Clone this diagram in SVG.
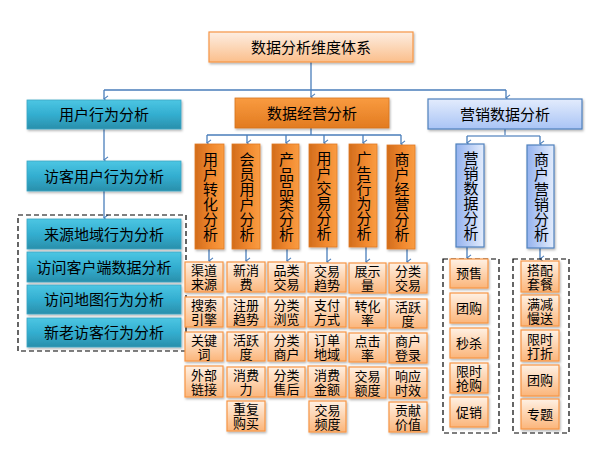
<svg xmlns="http://www.w3.org/2000/svg" width="610" height="457" viewBox="0 0 610 457">
<defs>
<linearGradient id="gTop" x1="0" y1="0" x2="0" y2="1"><stop offset="0" stop-color="#fdeee2"/><stop offset="1" stop-color="#fbbf8c"/></linearGradient>
<linearGradient id="gTeal" x1="0" y1="0" x2="0" y2="1"><stop offset="0" stop-color="#4cc6e3"/><stop offset="0.5" stop-color="#33aed0"/><stop offset="1" stop-color="#2a8fab"/></linearGradient>
<linearGradient id="gOrg" x1="0" y1="0" x2="0" y2="1"><stop offset="0" stop-color="#f99b40"/><stop offset="1" stop-color="#e27b20"/></linearGradient>
<linearGradient id="gCol" x1="0" y1="0" x2="1" y2="0"><stop offset="0" stop-color="#d26c1c"/><stop offset="0.6" stop-color="#f28a30"/><stop offset="1" stop-color="#f99c42"/></linearGradient>
<linearGradient id="gBlue" x1="0" y1="0" x2="0" y2="1"><stop offset="0" stop-color="#e3ecfd"/><stop offset="1" stop-color="#a9c4f5"/></linearGradient>
<linearGradient id="gBCol" x1="0" y1="0" x2="1" y2="0"><stop offset="0" stop-color="#94b2ee"/><stop offset="1" stop-color="#e4edfd"/></linearGradient>
<linearGradient id="gSub" x1="0" y1="0" x2="0" y2="1"><stop offset="0" stop-color="#fff1e4"/><stop offset="1" stop-color="#fbb57a"/></linearGradient>
<filter id="sh" x="-20%" y="-20%" width="140%" height="140%"><feDropShadow dx="1" dy="1.5" stdDeviation="1" flood-color="#000" flood-opacity="0.3"/></filter>
<marker id="ar" viewBox="0 0 10 10" refX="5" refY="9" markerWidth="8" markerHeight="8" markerUnits="userSpaceOnUse" orient="auto-start-reverse">
<path d="M1,4 L5,9 L9,4" fill="none" stroke="#4a7ebb" stroke-width="1.3"/>
</marker>
</defs>
<style>
text{font-family:"Liberation Sans","Noto Sans CJK SC",sans-serif;fill:#000;text-anchor:middle;dominant-baseline:central}
.t15{font-size:15px}
.t13{font-size:13px}
.v{font-size:15px;writing-mode:vertical-rl;text-anchor:middle}
.top{fill:url(#gTop);stroke:#f79646;stroke-width:1.2;filter:url(#sh)}
.teal{fill:url(#gTeal);stroke:#3aa5c4;stroke-width:0.8;filter:url(#sh)}
.org{fill:url(#gOrg);stroke:#d8741f;stroke-width:0.8;filter:url(#sh)}
.col{fill:url(#gCol);stroke:#e07a22;stroke-width:0.8;filter:url(#sh)}
.blue{fill:url(#gBlue);stroke:#4f81bd;stroke-width:1.2;filter:url(#sh)}
.bcol{fill:url(#gBCol);stroke:#4f81bd;stroke-width:1.2;filter:url(#sh)}
.sub{fill:url(#gSub);stroke:#f79646;stroke-width:1.2;filter:url(#sh)}
.dash{fill:none;stroke:#000;stroke-width:1.2;stroke-dasharray:5,3}
.ln{fill:none;stroke:#4a7ebb;stroke-width:1.3}
.la{fill:none;stroke:#4a7ebb;stroke-width:1.3;marker-end:url(#ar)}
</style>
<rect width="610" height="457" fill="#fff"/>

<g id="connectors">
<path class="ln" d="M311,62 V90 M104,90 H506"/>
<path class="la" d="M104,90 V99"/>
<path class="la" d="M311,90 V97"/>
<path class="la" d="M506,90 V98"/>
<path class="la" d="M104,129 V160"/>
<path class="la" d="M104,191 V218"/>
<path class="ln" d="M311,128 V135 M207,135 H401"/>
<path class="la" d="M207,135 V143"/>
<path class="la" d="M247,135 V143"/>
<path class="la" d="M286,135 V143"/>
<path class="la" d="M324,135 V143"/>
<path class="la" d="M363,135 V143"/>
<path class="la" d="M401,135 V144"/>
<path class="la" d="M209,249 V261"/>
<path class="la" d="M246,249 V261"/>
<path class="la" d="M287,249 V261"/>
<path class="la" d="M327,247 V262"/>
<path class="la" d="M366,247 V262"/>
<path class="la" d="M407,249 V262"/>
<path d="M505,129 V136 M467,136 H540" fill="none" stroke="#95b3d7" stroke-width="2"/>
<path class="la" d="M467,136 V143"/>
<path class="la" d="M540,136 V144"/>
<path class="la" d="M467,247 V258"/>
<path class="la" d="M540,248 V259"/>
</g>

<g id="root"><rect class="top" x="209" y="32" width="204" height="30"/><text class="t15" x="311" y="47">数据分析维度体系</text></g>

<g id="user"><rect class="teal" x="27" y="100" width="154" height="29"/><text class="t15" x="104" y="114.5">用户行为分析</text></g>
<g id="ops"><rect class="org" x="235" y="98" width="154" height="30"/><text class="t15" x="312" y="113">数据经营分析</text></g>
<g id="mkt"><rect class="blue" x="428" y="99" width="154" height="30"/><text class="t15" x="505" y="114">营销数据分析</text></g>

<g id="visitor"><rect class="teal" x="27" y="161" width="154" height="30"/><text class="t15" x="104" y="176">访客用户行为分析</text></g>
<g id="visitor-group">
<rect class="dash" x="18" y="215" width="168" height="136"/>
<g id="v1"><rect class="teal" x="27" y="219" width="154" height="30"/><text class="t15" x="104" y="234">来源地域行为分析</text></g>
<g id="v2"><rect class="teal" x="27" y="252" width="154" height="30"/><text class="t15" x="104" y="267.5">访问客户端数据分析</text></g>
<g id="v3"><rect class="teal" x="27" y="285" width="154" height="29"/><text class="t15" x="104" y="299.5">访问地图行为分析</text></g>
<g id="v4"><rect class="teal" x="27" y="318" width="154" height="29"/><text class="t15" x="104" y="332.5">新老访客行为分析</text></g>
</g>

<g id="c1"><rect class="col" x="195" y="144" width="29" height="105"/><text class="v" x="209.5" y="196.5">用户转化分析</text></g>
<g id="c2"><rect class="col" x="232" y="144" width="28" height="105"/><text class="v" x="246" y="196.5">会员用户分析</text></g>
<g id="c3"><rect class="col" x="272" y="144" width="27" height="105"/><text class="v" x="285.5" y="196.5">产品品类分析</text></g>
<g id="c4"><rect class="col" x="309" y="144" width="28" height="103"/><text class="v" x="323" y="195.5">用户交易分析</text></g>
<g id="c5"><rect class="col" x="349" y="144" width="28" height="103"/><text class="v" x="363" y="195.5">广告行为分析</text></g>
<g id="c6"><rect class="col" x="387" y="145" width="28" height="104"/><text class="v" x="401" y="196.5">商户经营分析</text></g>

<g id="m1"><rect class="bcol" x="456" y="144" width="28" height="103"/><text class="v" x="470" y="195.5">营销数据分析</text></g>
<g id="m2"><rect class="bcol" x="527" y="145" width="27" height="103"/><text class="v" x="540.5" y="196.5">商户营销分析</text></g>

<g id="s1a"><rect class="sub" x="185" y="262" width="38" height="30"/><text class="t13" x="204" y="270">渠道<tspan x="204" dy="14">来源</tspan></text></g>
<g id="s1b"><rect class="sub" x="185" y="297" width="38" height="30"/><text class="t13" x="204" y="305">搜索<tspan x="204" dy="14">引擎</tspan></text></g>
<g id="s1c"><rect class="sub" x="185" y="332" width="38" height="29"/><text class="t13" x="204" y="340">关键<tspan x="204" dy="14">词</tspan></text></g>
<g id="s1d"><rect class="sub" x="185" y="366" width="38" height="31"/><text class="t13" x="204" y="375">外部<tspan x="204" dy="14">链接</tspan></text></g>

<g id="s2a"><rect class="sub" x="227" y="262" width="38" height="30"/><text class="t13" x="246" y="270">新消<tspan x="246" dy="14">费</tspan></text></g>
<g id="s2b"><rect class="sub" x="227" y="297" width="38" height="30"/><text class="t13" x="246" y="305">注册<tspan x="246" dy="14">趋势</tspan></text></g>
<g id="s2c"><rect class="sub" x="227" y="332" width="38" height="29"/><text class="t13" x="246" y="340">活跃<tspan x="246" dy="14">度</tspan></text></g>
<g id="s2d"><rect class="sub" x="227" y="367" width="38" height="30"/><text class="t13" x="246" y="375">消费<tspan x="246" dy="14">力</tspan></text></g>
<g id="s2e"><rect class="sub" x="227" y="401" width="38" height="30"/><text class="t13" x="246" y="409">重复<tspan x="246" dy="14">购买</tspan></text></g>

<g id="s3a"><rect class="sub" x="268" y="262" width="37" height="30"/><text class="t13" x="286.5" y="270">品类<tspan x="286.5" dy="14">交易</tspan></text></g>
<g id="s3b"><rect class="sub" x="268" y="297" width="37" height="30"/><text class="t13" x="286.5" y="305">分类<tspan x="286.5" dy="14">浏览</tspan></text></g>
<g id="s3c"><rect class="sub" x="268" y="332" width="37" height="29"/><text class="t13" x="286.5" y="340">分类<tspan x="286.5" dy="14">商户</tspan></text></g>
<g id="s3d"><rect class="sub" x="268" y="367" width="37" height="30"/><text class="t13" x="286.5" y="375">分类<tspan x="286.5" dy="14">售后</tspan></text></g>

<g id="s4a"><rect class="sub" x="308" y="263" width="38" height="29"/><text class="t13" x="327" y="271">交易<tspan x="327" dy="14">趋势</tspan></text></g>
<g id="s4b"><rect class="sub" x="308" y="297" width="38" height="30"/><text class="t13" x="327" y="305">支付<tspan x="327" dy="14">方式</tspan></text></g>
<g id="s4c"><rect class="sub" x="308" y="332" width="38" height="29"/><text class="t13" x="327" y="340">订单<tspan x="327" dy="14">地域</tspan></text></g>
<g id="s4d"><rect class="sub" x="308" y="366" width="38" height="31"/><text class="t13" x="327" y="375">消费<tspan x="327" dy="14">金额</tspan></text></g>
<g id="s4e"><rect class="sub" x="309" y="401" width="37" height="31"/><text class="t13" x="327.5" y="410">交易<tspan x="327.5" dy="14">频度</tspan></text></g>

<g id="s5a"><rect class="sub" x="349" y="263" width="37" height="30"/><text class="t13" x="367.5" y="271">展示<tspan x="367.5" dy="14">量</tspan></text></g>
<g id="s5b"><rect class="sub" x="349" y="298" width="37" height="30"/><text class="t13" x="367.5" y="306">转化<tspan x="367.5" dy="14">率</tspan></text></g>
<g id="s5c"><rect class="sub" x="349" y="333" width="37" height="29"/><text class="t13" x="367.5" y="341">点击<tspan x="367.5" dy="14">率</tspan></text></g>
<g id="s5d"><rect class="sub" x="349" y="367" width="37" height="31"/><text class="t13" x="367.5" y="376">交易<tspan x="367.5" dy="14">额度</tspan></text></g>

<g id="s6a"><rect class="sub" x="389" y="263" width="38" height="30"/><text class="t13" x="408" y="271">分类<tspan x="408" dy="14">交易</tspan></text></g>
<g id="s6b"><rect class="sub" x="389" y="299" width="38" height="29"/><text class="t13" x="408" y="307">活跃<tspan x="408" dy="14">度</tspan></text></g>
<g id="s6c"><rect class="sub" x="389" y="333" width="38" height="30"/><text class="t13" x="408" y="341">商户<tspan x="408" dy="14">登录</tspan></text></g>
<g id="s6d"><rect class="sub" x="389" y="368" width="38" height="30"/><text class="t13" x="408" y="376">响应<tspan x="408" dy="14">时效</tspan></text></g>
<g id="s6e"><rect class="sub" x="389" y="402" width="38" height="30"/><text class="t13" x="408" y="410">贡献<tspan x="408" dy="14">价值</tspan></text></g>

<g id="mA-group">
<rect class="dash" x="443" y="259" width="56" height="174"/>
<g id="mA1"><rect class="sub" x="450" y="259" width="38" height="29"/><text class="t13" x="469" y="273.5">预售</text></g>
<g id="mA2"><rect class="sub" x="450" y="293" width="38" height="30"/><text class="t13" x="469" y="308">团购</text></g>
<g id="mA3"><rect class="sub" x="450" y="328" width="38" height="30"/><text class="t13" x="469" y="343">秒杀</text></g>
<g id="mA4"><rect class="sub" x="450" y="363" width="38" height="30"/><text class="t13" x="469" y="371">限时<tspan x="469" dy="14">抢购</tspan></text></g>
<g id="mA5"><rect class="sub" x="450" y="397" width="38" height="30"/><text class="t13" x="469" y="412">促销</text></g>
</g>

<g id="mB-group">
<rect class="dash" x="513" y="259" width="56" height="174"/>
<g id="mB1"><rect class="sub" x="521" y="261" width="38" height="31"/><text class="t13" x="540" y="270">搭配<tspan x="540" dy="14">套餐</tspan></text></g>
<g id="mB2"><rect class="sub" x="521" y="295" width="38" height="31"/><text class="t13" x="540" y="304">满减<tspan x="540" dy="14">慢送</tspan></text></g>
<g id="mB3"><rect class="sub" x="521" y="330" width="38" height="31"/><text class="t13" x="540" y="339">限时<tspan x="540" dy="14">打折</tspan></text></g>
<g id="mB4"><rect class="sub" x="521" y="365" width="38" height="31"/><text class="t13" x="540" y="380.5">团购</text></g>
<g id="mB5"><rect class="sub" x="521" y="399" width="38" height="30"/><text class="t13" x="540" y="414">专题</text></g>
</g>
</svg>
